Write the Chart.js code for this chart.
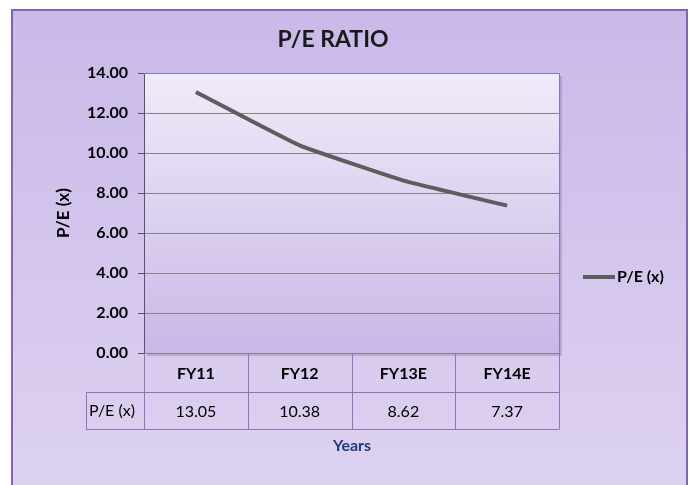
<!DOCTYPE html>
<html>
<head>
<meta charset="utf-8">
<script src="https://cdn.jsdelivr.net/npm/chart.js@4.4.0/dist/chart.umd.min.js"></script>
<style>
  html, body { margin: 0; padding: 0; background: #ffffff; }
  #wrap { width: 689px; height: 485px; }
</style>
</head>
<body>
<div id="wrap"><canvas id="peChart" width="689" height="485"></canvas></div>
<script>
// chart data
var years = ["FY11", "FY12", "FY13E", "FY14E"];
var peValues = [13.05, 10.38, 8.62, 7.37];
var seriesName = "P/E (x)";
var yTicks = [0, 2, 4, 6, 8, 10, 12, 14];

var FONT = "Lato, 'Open Sans', sans-serif";
var frameColor = "#7c68ab";
var tableColor = "#8a77b9";
var lineColor = "#5d5d5d";

// backgrounds, title, data table, legend
var decorPlugin = {
  id: "decor",
  beforeDraw: function (chart) {
    var c = chart.ctx;
    var a = chart.chartArea;
    c.save();
    // outer frame
    var g = c.createLinearGradient(0, 10, 0, 485);
    g.addColorStop(0, "#cab9e9");
    g.addColorStop(1, "#ddd1f0");
    c.fillStyle = g;
    c.fillRect(12, 10, 675, 480);
    c.strokeStyle = frameColor;
    c.lineWidth = 2;
    c.strokeRect(12, 10, 675, 480);
    // plot area shadow
    c.fillStyle = "rgba(90,70,130,0.25)";
    c.fillRect(a.left + 3, a.top + 3, a.width, a.height);
    // plot area
    var pg = c.createLinearGradient(0, a.top, 0, a.bottom);
    pg.addColorStop(0, "#f0ebf9");
    pg.addColorStop(1, "#c9b7e7");
    c.fillStyle = pg;
    c.fillRect(a.left, a.top, a.width, a.height);
    c.restore();
  },
  afterDraw: function (chart) {
    var c = chart.ctx;
    var a = chart.chartArea;
    var xs = chart.scales.x;
    c.save();
    // plot border (top / right)
    c.strokeStyle = tableColor;
    c.lineWidth = 1;
    c.beginPath();
    c.moveTo(a.left, a.top + 0.5);
    c.lineTo(a.right + 0.5, a.top + 0.5);
    c.lineTo(a.right + 0.5, a.bottom);
    c.stroke();

    // title
    c.fillStyle = "#1a1a1a";
    c.font = "bold 23px " + FONT;
    c.textAlign = "center";
    c.textBaseline = "middle";
    c.fillText("P/E RATIO", 333, 40);

    // y axis title
    c.save();
    c.translate(64, 213);
    c.rotate(-Math.PI / 2);
    c.font = "bold 17px " + FONT;
    c.fillStyle = "#000";
    c.fillText(seriesName, 0, 0);
    c.restore();

    // data table
    var step = xs.getPixelForValue(1) - xs.getPixelForValue(0);
    var r0 = a.bottom, r1 = a.bottom + 39, r2 = a.bottom + 76;
    var labelLeft = 86;
    c.strokeStyle = tableColor;
    c.lineWidth = 1;
    c.beginPath();
    c.moveTo(labelLeft, r1 + 0.5); c.lineTo(a.right, r1 + 0.5);
    c.moveTo(labelLeft, r2 + 0.5); c.lineTo(a.right, r2 + 0.5);
    for (var i = 0; i <= years.length; i++) {
      var vx = Math.round(xs.getPixelForValue(i) - step / 2) + 0.5;
      c.moveTo(vx, r0); c.lineTo(vx, r2 + 0.5);
    }
    c.moveTo(labelLeft + 0.5, r1); c.lineTo(labelLeft + 0.5, r2 + 0.5);
    c.stroke();

    c.fillStyle = "#000";
    c.font = "bold 16px " + FONT;
    c.textAlign = "center";
    years.forEach(function (y, i) {
      c.fillText(y, xs.getPixelForValue(i), (r0 + r1) / 2 + 1);
    });
    c.font = "16px " + FONT;
    peValues.forEach(function (v, i) {
      c.fillText(v.toFixed(2), xs.getPixelForValue(i), (r1 + r2) / 2 + 1);
    });
    c.textAlign = "left";
    c.font = "16px " + FONT;
    c.fillText(seriesName, labelLeft + 3, (r1 + r2) / 2);

    // x axis title
    c.textAlign = "center";
    c.fillStyle = "#1f3b78";
    c.font = "bold 16px " + FONT;
    c.fillText("Years", 352, 446);

    // legend
    c.strokeStyle = lineColor;
    c.lineWidth = 4;
    c.beginPath();
    c.moveTo(583, 277); c.lineTo(615, 277);
    c.stroke();
    c.fillStyle = "#000";
    c.textAlign = "left";
    c.font = "bold 16px " + FONT;
    c.fillText(seriesName, 617, 277);
    c.restore();
  }
};

var ctx = document.getElementById("peChart").getContext("2d");
var peChart = new Chart(ctx, {
  type: "line",
  data: {
    labels: years,
    datasets: [
      {
        label: seriesName,
        data: peValues,
        borderColor: lineColor,
        borderWidth: 4,
        pointRadius: 0,
        tension: 0.1,
        fill: false,
      },
    ],
  },
  options: {
    responsive: false,
    animation: false,
    layout: {
      padding: { left: 0, top: 73, right: 130, bottom: 132 },
    },
    scales: {
      x: {
        display: false,
        offset: true,
      },
      y: {
        min: 0,
        max: 14,
        afterFit: function (scale) {
          scale.width = 144;
        },
        afterBuildTicks: function (scale) {
          scale.ticks = yTicks.map(function (v) { return { value: v }; });
        },
        ticks: {
          padding: 10,
          color: "#000",
          font: { family: FONT, size: 16, weight: "bold" },
          callback: function (v) { return Number(v).toFixed(2); },
        },
        grid: {
          color: function (ctx) {
            return ctx.tick && ctx.tick.value === 14 ? "rgba(0,0,0,0)" : "#858585";
          },
          tickColor: "#555",
          tickLength: 6,
        },
        border: { color: "#5c5070", width: 1 },
      },
    },
    plugins: {
      legend: { display: false },
      title: { display: false },
      tooltip: { enabled: false },
    },
  },
  plugins: [decorPlugin],
});
</script>
</body>
</html>
